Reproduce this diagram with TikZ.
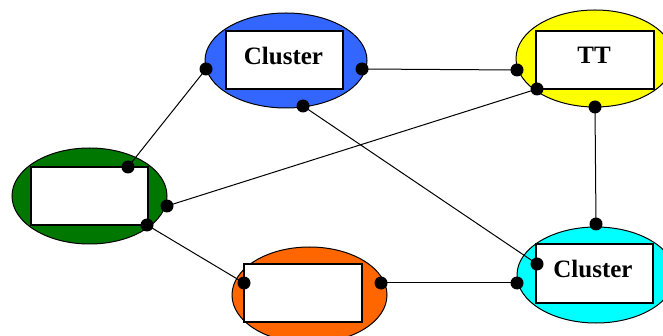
\documentclass[tikz,border=0pt]{standalone}
\usepackage{fontspec}
\setmainfont{Liberation Serif}
\usetikzlibrary{shapes.geometric}
\definecolor{cblue}{HTML}{3366FF}
\definecolor{cyel}{HTML}{FFFF00}
\definecolor{cgreen}{HTML}{007700}
\definecolor{corange}{HTML}{FF6600}
\definecolor{ccyan}{HTML}{00FFFF}
\tikzset{
  blob/.style={ellipse, draw=black, line width=1pt, inner sep=0pt},
  box/.style={rectangle, draw=black, fill=white, line width=1.4pt, inner sep=0pt},
  lbl/.style={font=\fontsize{25}{25}\selectfont\bfseries, inner sep=0pt},
  dotpt/.style={coordinate},
  link/.style={draw=black, line width=1pt}
}
\begin{document}
\begin{tikzpicture}[x=1pt,y=-1pt]
\useasboundingbox (0,0) rectangle (663,336);
\clip (0,0) rectangle (663,336);
% ellipses
\node[blob, fill=cgreen, minimum width=155pt, minimum height=96pt] (eg) at (89.5,196) {};
\node[blob, fill=cblue, minimum width=162pt, minimum height=95pt] (eb) at (286,60.5) {};
\node[blob, fill=cyel, minimum width=158pt, minimum height=97pt] (ey) at (595,58.5) {};
\node[blob, fill=corange, minimum width=155pt, minimum height=96pt] (eo) at (309.5,295) {};
\node[blob, fill=ccyan, minimum width=158pt, minimum height=96pt] (ec) at (596,275) {};
% boxes
\node[box, minimum width=117pt, minimum height=58pt] (bg) at (89.5,196) {};
\node[box, minimum width=117pt, minimum height=58pt] (bb) at (284.5,60) {};
\node[box, minimum width=118pt, minimum height=58pt] (by) at (595,60) {};
\node[box, minimum width=118pt, minimum height=58pt] (bo) at (303,293) {};
\node[box, minimum width=117pt, minimum height=59pt] (bc) at (594.5,273.5) {};
% labels
\node[lbl, anchor=base] (tb) at (283.5,65) {Cluster};
\node[lbl, anchor=base] (ty) at (594,64) {TT};
\node[lbl, anchor=base] (tc) at (593,278) {Cluster};
% connection points
\coordinate (g1) at (128,167);
\coordinate (g2) at (167,206);
\coordinate (g3) at (147,225);
\coordinate (b1) at (206,69);
\coordinate (b2) at (362,69);
\coordinate (b3) at (303,106);
\coordinate (y1) at (517,70);
\coordinate (y2) at (537,89);
\coordinate (y3) at (595,107);
\coordinate (o1) at (244,283);
\coordinate (o2) at (381,283);
\coordinate (c1) at (596,224);
\coordinate (c2) at (537,264);
\coordinate (c3) at (517,283);
% links
\path[link] (g1) -- (b1);
\path[link] (g2) -- (y2);
\path[link] (g3) -- (o1);
\path[link] (b2) -- (y1);
\path[link] (b3) -- (c2);
\path[link] (y3) -- (c1);
\path[link] (o2) -- (c3);
% dots
\foreach \d in {g1,g2,g3,b1,b2,b3,y1,y2,y3,o1,o2,c1,c2,c3}
  \fill[black] (\d) circle (6.5pt);
\end{tikzpicture}
\end{document}
